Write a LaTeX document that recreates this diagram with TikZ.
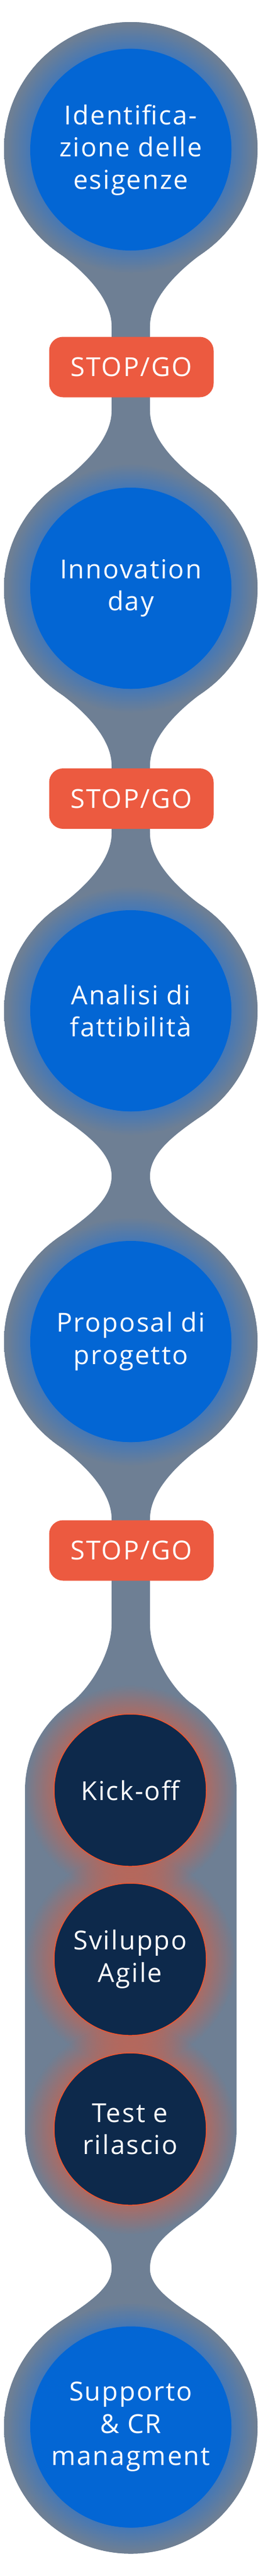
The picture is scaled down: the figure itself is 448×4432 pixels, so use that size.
\documentclass[tikz,border=0pt]{standalone}
\usepackage{fontspec}
\setmainfont{Open Sans}[LetterSpace=5]
\usetikzlibrary{fadings}
\definecolor{cgray}{HTML}{6E7F94}
\definecolor{cblue}{HTML}{0366D4}
\definecolor{cglow}{HTML}{4578B6}
\definecolor{cnavy}{HTML}{0D294B}
\definecolor{cred}{HTML}{EC5A40}
\definecolor{cring}{HTML}{F2552E}
\pgfdeclareradialshading{blueglow}{\pgfpointorigin}{color(0bp)=(cblue); color(19.8bp)=(cblue); color(19.85bp)=(cglow); color(24.6bp)=(cgray); color(50bp)=(cgray)}
\pgfdeclareradialshading{ringshade}{\pgfpointorigin}{color(0bp)=(white!45!black); color(18bp)=(white!45!black); color(25bp)=(black); color(50bp)=(black)}
\pgfdeclarefading{ringfade}{\pgfuseshading{ringshade}}
\newcommand\fil[8]{%
  \foreach \m in {1,-1}{%
    \fill[cgray] (225,{#1+(#2)*#4}) -- ({225+\m*#3},{#1+(#2)*#4})
      .. controls ({225+\m*#5},{#1+(#2)*#6}) and ({225+\m*33},{#1+(#2)*#7}) ..
      ({225+\m*33},{#1+(#2)*#8}) -- (225,{#1+(#2)*#8}) -- cycle;
  }}
\tikzset{
  lbl/.style={text=white, align=center, inner sep=0pt, font=\fontsize{45}{55.5}\selectfont},
  bluec/.style={lbl, circle, fill=cblue, minimum size=346pt},
  navyc/.style={lbl, circle, fill=cnavy, draw=cring, line width=1.5pt, minimum size=262pt},
  stopgo/.style={lbl, rectangle, rounded corners=24pt, fill=cred, minimum width=283pt, minimum height=104pt},
}
\begin{document}
\begin{tikzpicture}[x=1pt,y=-1pt]
\useasboundingbox (0,0) rectangle (448,4432);
% gray body
\foreach \c in {256,1012,1739,2308,4175.5} \fill[cgray] (225,\c) circle (218pt);
\fill[cgray] (192,256) rectangle (258,4175);
\fill[cgray] (43,3080) rectangle (407,3663);
\fill[cgray] (225,3080) circle (182pt);
\fill[cgray] (225,3663) circle (182pt);
% fillets
\fil{256}{1}{127}{177}{86}{206}{255}{305}
\fil{1012}{-1}{127}{177}{86}{206}{255}{305}
\fil{1012}{1}{127}{177}{86}{206}{255}{305}
\fil{1739}{-1}{127}{177}{86}{206}{255}{305}
\fil{1739}{1}{127}{177}{86}{206}{240}{284.5}
\fil{2308}{-1}{127}{177}{86}{206}{240}{284.5}
\fil{2308}{1}{127}{177}{86}{206}{255}{305}
\fil{3080}{-1}{107}{147}{71}{173}{235}{285}
\fil{3663}{1}{107}{147}{63}{179}{200}{240}
\fil{4175.5}{-1}{127}{177}{86}{206}{235}{272}
% glows
\foreach \c in {256,1012,1739,2308,4175.5} \shade[shading=blueglow] (225,\c) circle (218pt);
\foreach \c in {3080,3371,3663} \fill[cring, path fading=ringfade, fit fading=true] (224,\c) circle (181pt);
% stages
\node[bluec] (n1) at (225,258) {Identifica-\\zione delle\\esigenze};
\node[bluec] (n2) at (225,1012) {Innovation\\day};
\node[bluec] (n3) at (225,1739) {Analisi di\\fattibilità};
\node[bluec] (n4) at (225,2308) {Proposal di\\progetto};
\node[navyc] (n5) at (224,3080) {Kick-off};
\node[navyc] (n6) at (224,3371) {Sviluppo\\Agile};
\node[navyc] (n7) at (224,3663) {Test e\\rilascio};
\node[bluec] (n8) at (225,4175.5) {Supporto\\\& CR\\managment};
\node[stopgo] (s1) at (226,631.5) {STOP/GO};
\node[stopgo] (s2) at (226,1374) {STOP/GO};
\node[stopgo] (s3) at (226,2667.5) {STOP/GO};
\end{tikzpicture}
\end{document}
